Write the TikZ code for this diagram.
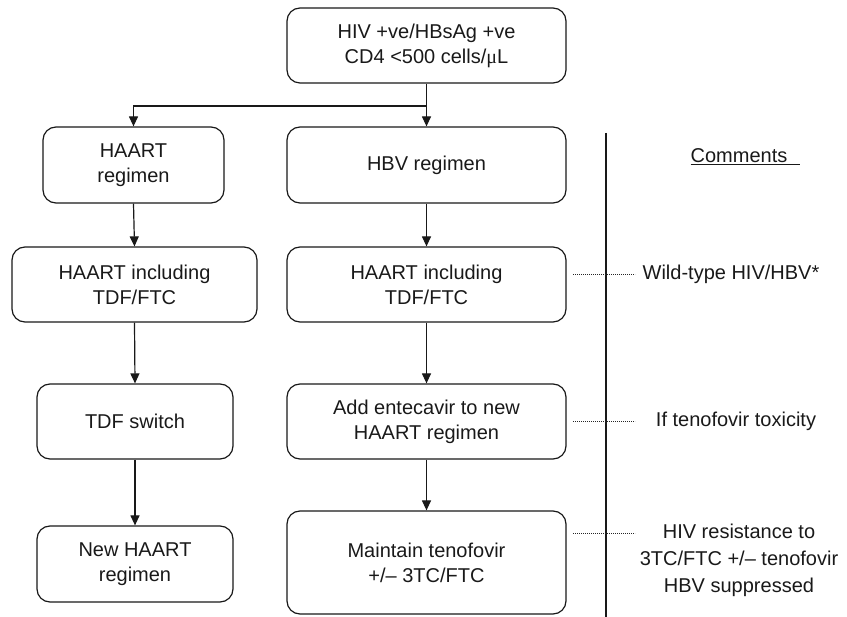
\documentclass[tikz,border=0pt]{standalone}
\usepackage{fontspec}
\setmainfont{Liberation Sans}
\newfontfamily\mufont{Liberation Serif}
\usetikzlibrary{arrows.meta}
\begin{document}
\begin{tikzpicture}[x=1pt,y=-1pt,
  every node/.style={font=\fontsize{20}{25}\selectfont, text=black!90},
  box/.style={draw=black!90, line width=1.2pt, rounded corners=13pt, align=center, inner sep=0pt},
  arr/.style={draw=black!90, line width=1.2pt, -{Triangle[width=9pt,length=10pt]}},
  plain/.style={draw=black!90, line width=1.2pt},
  dots/.style={draw=black!85, line width=0.7pt, dash pattern=on 0.8pt off 1.2pt},
  note/.style={align=center, inner sep=0pt}]
\useasboundingbox (0,0) rectangle (847,617);
% boxes
\node[box, minimum width=279pt, minimum height=75pt] (top) at (426.5,45.5) {HIV +ve/HBsAg +ve\\CD4 {<}500 cells/{\mufont μ}L};
\node[box, minimum width=181pt, minimum height=76pt] (l1) at (133.5,165) {HAART\\regimen};
\node[box, minimum width=279pt, minimum height=76pt] (r1) at (426.5,165) {HBV regimen};
\node[box, minimum width=245pt, minimum height=75pt] (l2) at (134.5,284.5) {HAART including\\TDF/FTC};
\node[box, minimum width=279pt, minimum height=75pt] (r2) at (426.5,284.5) {HAART including\\TDF/FTC};
\node[box, minimum width=196pt, minimum height=75pt] (l3) at (135,421.5) {TDF switch};
\node[box, minimum width=279pt, minimum height=75pt] (r3) at (426.5,421.5) {Add entecavir to new\\HAART regimen};
\node[box, minimum width=196pt, minimum height=76pt] (l4) at (135,564) {New HAART\\regimen};
\node[box, minimum width=279pt, minimum height=103pt] (r4) at (426.5,562.5) {Maintain tenofovir\\+/– 3TC/FTC};
% split
\coordinate (split) at (426.5,106);
\draw[plain] (top.south) -- (split);
\draw[arr] (split) -| (l1.north);
\draw[arr] (split) -- (r1.north);
\draw[arr] (l1.south) -- (l2.north);
\draw[arr] (l2.south) -- (l3.north);
\draw[arr] (l3.south) -- (l4.north);
\draw[arr] (r1.south) -- (r2.north);
\draw[arr] (r2.south) -- (r3.north);
\draw[arr] (r3.south) -- (r4.north);
% divider
\coordinate (dtop) at (606,133);
\coordinate (dbot) at (606,617);
\draw[plain] (dtop) -- (dbot);
% comments
\node[note] (comments) at (745.5,157) {\underline{Comments\hspace{13pt}}};
\node[note] (c1) at (731,274) {Wild-type HIV/HBV*};
\node[note] (c2) at (736,421) {If tenofovir toxicity};
\node[note, font=\fontsize{20}{27}\selectfont] (c3) at (739,560) {HIV resistance to\\3TC/FTC +/– tenofovir\\HBV suppressed};
\coordinate (d1a) at (573,274); \coordinate (d1b) at (635,274);
\coordinate (d2a) at (573,421); \coordinate (d2b) at (635,421);
\coordinate (d3a) at (573,533); \coordinate (d3b) at (635,533);
\draw[dots] (d1a) -- (d1b);
\draw[dots] (d2a) -- (d2b);
\draw[dots] (d3a) -- (d3b);
\end{tikzpicture}
\end{document}
